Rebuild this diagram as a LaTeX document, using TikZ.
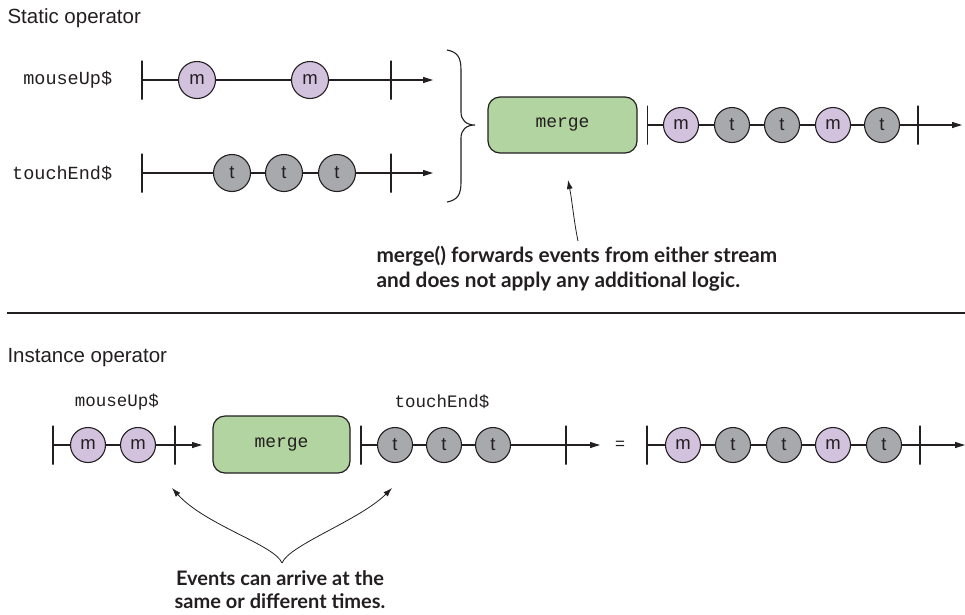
\documentclass[tikz,border=0pt]{standalone}
\usepackage{fontspec}
\setmainfont{Liberation Sans}
\setmonofont{Liberation Mono}
\newfontfamily\notefont{Lato}
\usetikzlibrary{arrows.meta, positioning}

\definecolor{inkline}{RGB}{35,31,32}
\definecolor{mfill}{RGB}{211,194,222}
\definecolor{tfill}{RGB}{167,169,172}
\definecolor{opfill}{RGB}{178,212,160}

\begin{document}
\begin{tikzpicture}[
  x=1pt, y=-1pt, color=inkline, line width=1.1pt,
  evm/.style={circle, draw, fill=mfill, minimum size=35pt, inner sep=0pt, font=\fontsize{18.5}{18.5}\selectfont},
  evt/.style={evm, fill=tfill},
  tickbar/.style={draw, minimum width=0pt, minimum height=39pt, inner sep=0pt},
  stream/.style={-{Triangle[length=10pt, width=6pt]}},
  op/.style={rectangle, rounded corners=12pt, draw, line width=1.2pt, fill=opfill, minimum height=56pt, font=\ttfamily\fontsize{18}{18}\selectfont},
  streamname/.style={font=\ttfamily\fontsize{18.5}{18.5}\selectfont},
  heading/.style={font=\fontsize{20.5}{20.5}\selectfont, anchor=base west, inner sep=0pt},
  note/.style={font=\notefont\bfseries\fontsize{20.8}{25}\selectfont, align=left, inner sep=0pt},
  pointer/.style={-{Latex[length=9pt, width=6pt]}, line width=0.8pt}
]
\useasboundingbox (0,0) rectangle (965,614);

% headings and separator
\node[heading] (staticHead) at (7,23) {Static operator};
\node[heading] (instHead) at (7,362) {Instance operator};
\coordinate (sepL) at (7,313);
\coordinate (sepR) at (965,313);
\draw (sepL) -- (sepR);

% static: input streams
\node[streamname, anchor=east] (muName) at (116,80) {mouseUp\$};
\node[streamname, anchor=east] (teName) at (116,173) {touchEnd\$};

\node[tickbar] (mu0) at (142,80) {};
\node[tickbar] (mu9) at (391,80) {};
\coordinate (muEnd) at (433,80);
\draw[stream] (mu0.center) -- (muEnd);
\node[evm, minimum size=37pt] (mu1) at (197,80) {m};
\node[evm, minimum size=37pt] (mu2) at (310,80) {m};

\node[tickbar] (te0) at (142,173) {};
\node[tickbar] (te9) at (391,173) {};
\coordinate (teEnd) at (433,173);
\draw[stream] (te0.center) -- (teEnd);
\foreach \x [count=\i] in {232,284,337}
  \node[evt, minimum size=37pt] (te\i) at (\x,173) {t};

% brace
\draw (447,50) .. controls (458,52) and (461,58) .. (461,70) -- (461,112)
  .. controls (461,120) and (466,125) .. (475,125)
  .. controls (466,125) and (461,130) .. (461,138) -- (461,182)
  .. controls (461,194) and (458,200) .. (447,202);

% static: merge and output
\node[op, minimum width=149pt] (mergeTop) at (562.5,125) {merge};
\node[tickbar, right=9pt of mergeTop] (out0) {};
\node[tickbar] (out9) at (918,125) {};
\coordinate (outEnd) at (962,125);
\draw[stream] (out0.center) -- (outEnd);
\foreach \x/\l/\s [count=\i] in {681/m/evm, 732/t/evt, 782/t/evt, 833/m/evm, 882/t/evt}
  \node[\s] (out\i) at (\x,125) {\l};

\node[note, anchor=base west] (noteTop) at (376,287) {merge() forwards events from either stream\\and does not apply any additional logic.};
\coordinate (noteTopFoot) at (578,241);
\coordinate (noteTopTip) at (568,180);
\draw[pointer] (noteTopFoot) .. controls (574,222) and (572,200) .. (noteTopTip);

% instance: streams
\node[streamname, font=\ttfamily\fontsize{17.5}{17.5}\selectfont] (muName2) at (117,402) {mouseUp\$};
\node[streamname, font=\ttfamily\fontsize{17.5}{17.5}\selectfont] (teName2) at (442,402) {touchEnd\$};

\node[tickbar] (a0) at (53,445) {};
\node[tickbar] (a9) at (175,445) {};
\coordinate (aEnd) at (202,445);
\draw[stream] (a0.center) -- (aEnd);
\node[evm] (a1) at (88,445) {m};
\node[evm] (a2) at (138,445) {m};

\node[op, minimum width=137pt, minimum height=57pt] (mergeInst) at (281.5,444.5) {merge};

\node[tickbar] (b0) at (361,445) {};
\node[tickbar] (b9) at (566,445) {};
\coordinate (bEnd) at (600,445);
\draw[stream] (b0.center) -- (bEnd);
\foreach \x [count=\i] in {395,444,493}
  \node[evt] (b\i) at (\x,445) {t};

\node[font=\fontsize{17}{17}\selectfont] (eq) at (620,445) {=};

\node[tickbar] (c0) at (647,445) {};
\node[tickbar] (c9) at (920,445) {};
\coordinate (cEnd) at (965,445);
\draw[stream] (c0.center) -- (cEnd);
\foreach \x/\l/\s [count=\i] in {683/m/evm, 733/t/evt, 784/t/evt, 833/m/evm, 884/t/evt}
  \node[\s] (c\i) at (\x,445) {\l};

% instance: note
\node[note, align=center, anchor=base, font=\notefont\bfseries\fontsize{20}{22.5}\selectfont] (noteInst) at (280,608) {Events can arrive at the\\same or different times.};
\coordinate (noteInstTop) at (282,563);
\coordinate (tipA) at (172,488);
\coordinate (tipB) at (392,488);
\draw[pointer] (noteInstTop) .. controls (275,545) and (205,525) .. (tipA);
\draw[pointer] (noteInstTop) .. controls (289,545) and (360,520) .. (tipB);
\end{tikzpicture}
\end{document}
